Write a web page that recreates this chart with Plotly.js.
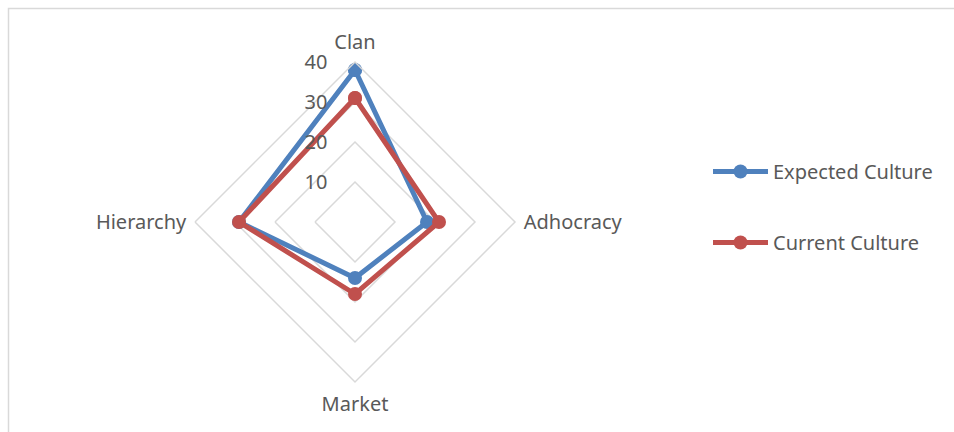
<!DOCTYPE html>
<html>
<head>
<meta charset="utf-8">
<script src="https://cdn.plot.ly/plotly-3.0.1.min.js"></script>
<style>html,body{margin:0;padding:0;background:#fff;}#chart{width:954px;height:432px;}</style>
</head>
<body>
<div id="chart"></div>
<script>
const categories = ["Clan", "Adhocracy", "Market", "Hierarchy"];
const expectedCulture = [38, 18, 14, 29];
const currentCulture = [31, 21, 18, 29];
const radialTicks = [10, 20, 30, 40];

function closed(a) { return a.concat([a[0]]); }

const W = 954, H = 432;
const cx = 355, cy = 222, R = 160;

const traces = [
  {
    type: "scatterpolar", name: "Expected Culture", legendgroup: "a",
    r: closed(expectedCulture), theta: closed(categories),
    mode: "lines+markers",
    line: {color: "#4f81bd", width: 5},
    marker: {color: "#4f81bd", size: 14},
    cliponaxis: false
  },
  {
    type: "scatterpolar", name: "Current Culture", legendgroup: "b",
    r: closed(currentCulture), theta: closed(categories),
    mode: "lines+markers",
    line: {color: "#c0504d", width: 5},
    marker: {color: "#c0504d", size: 14},
    cliponaxis: false
  }
];

const layout = {
  width: W, height: H,
  margin: {l: 0, r: 0, t: 0, b: 0},
  paper_bgcolor: "#ffffff",
  font: {family: "Noto Sans, sans-serif", color: "#595959", size: 20},
  showlegend: true,
  legend: {
    x: 708 / W, y: 1 - 152 / H, xanchor: "left", yanchor: "top",
    font: {size: 20, color: "#595959"},
    tracegroupgap: 42, itemwidth: 55
  },
  polar: {
    domain: {x: [(cx - R) / W, (cx + R) / W], y: [(H - cy - R) / H, (H - cy + R) / H]},
    bgcolor: "rgba(0,0,0,0)",
    gridshape: "linear",
    radialaxis: {
      range: [0, 40], tickvals: radialTicks, ticktext: radialTicks.map(String),
      angle: 90, side: "counterclockwise", tickangle: 90,
      showline: false, ticks: "outside", ticklen: 20, tickcolor: "rgba(0,0,0,0)",
      gridcolor: "#d9d9d9", gridwidth: 1.5,
      tickfont: {size: 20, color: "#595959"}
    },
    angularaxis: {
      rotation: 90, direction: "clockwise",
      showgrid: false, showline: true, linecolor: "#d9d9d9", linewidth: 1.5,
      ticks: "outside", ticklen: 4, tickcolor: "rgba(0,0,0,0)",
      tickfont: {size: 20, color: "#595959"}
    }
  },
  shapes: [{
    type: "rect", xref: "paper", yref: "paper",
    x0: 8.5 / W, x1: 1.05, y0: -0.05, y1: 1 - 8.5 / H,
    line: {color: "#d9d9d9", width: 1.5}, fillcolor: "rgba(0,0,0,0)"
  }]
};

Plotly.newPlot("chart", traces, layout, {displayModeBar: false, staticPlot: true});
</script>
</body>
</html>
